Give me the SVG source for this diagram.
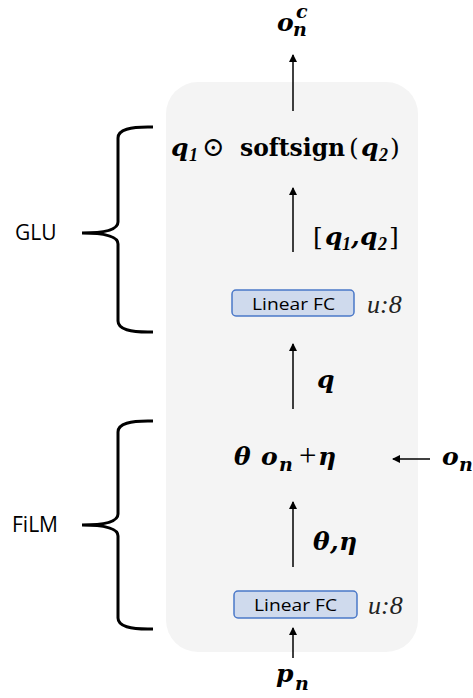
<svg xmlns="http://www.w3.org/2000/svg" width="473" height="698" viewBox="0 0 473 698">
<style>
.m{font-family:"DejaVu Serif","Liberation Serif",serif;font-weight:bold;font-style:italic;font-size:25px;fill:#000}
.mn{font-family:"DejaVu Serif","Liberation Serif",serif;font-weight:bold;font-style:italic;font-size:19px;fill:#000}
.ms{font-family:"Liberation Serif",serif;font-weight:bold;font-style:italic;font-size:18px;fill:#000}
.up{font-family:"DejaVu Serif","Liberation Serif",serif;font-weight:bold;font-size:25px;fill:#000}
.rg{font-family:"DejaVu Serif","Liberation Serif",serif;font-size:25px;font-weight:normal;fill:#000}
.u{font-family:"Liberation Serif","Times New Roman",serif;font-style:italic;font-size:26px;fill:#222}
.lab{font-family:"Open Sans","Liberation Sans",sans-serif;font-size:21px;fill:#000}
.fc{fill:#cfdaed;stroke:#4a78c8;stroke-width:1.5}
.fct{font-family:"Open Sans","Liberation Sans",sans-serif;font-size:17px;fill:#000}
.ar{stroke:#000;stroke-width:1.5;fill:none;marker-end:url(#ah)}
.br{stroke:#000;stroke-width:3;fill:none;stroke-linejoin:miter}
</style>
<defs>
<marker id="ah" markerWidth="8" markerHeight="10" refX="7" refY="5" orient="auto" markerUnits="userSpaceOnUse" viewBox="0 0 8 10">
<path d="M0,1 L8,5 L0,9 Z" fill="#000"/>
</marker>
</defs>
<rect id="panel" x="166" y="82" width="252" height="570" rx="32" ry="32" fill="#f4f4f4"/>
<g id="connectors">
<line class="ar" x1="293" y1="111" x2="293" y2="55"/>
<line class="ar" x1="293" y1="252" x2="293" y2="188"/>
<line class="ar" x1="293" y1="409" x2="293" y2="344"/>
<line class="ar" x1="430" y1="459" x2="393" y2="459"/>
<line class="ar" x1="293" y1="567" x2="293" y2="502"/>
<line class="ar" x1="293" y1="658" x2="293" y2="628"/>
</g>
<g id="out">
<text class="m" x="277" y="31">o<tspan class="mn" x="293" y="36">n</tspan><tspan class="mn" x="296" y="18">c</tspan></text>
</g>
<g id="glu-out">
<text class="m" x="171" y="156">q</text>
<text class="ms" x="189" y="161">1</text>
<text class="rg" x="202" y="156" style="font-size:27px">⊙</text>
<text class="up" x="240" y="156"><tspan textLength="105" lengthAdjust="spacingAndGlyphs">softsign</tspan><tspan class="rg" x="349">(</tspan></text>
<text class="m" x="361" y="156">q</text>
<text class="ms" x="379" y="161">2</text>
<text class="rg" x="390" y="156">)</text>
</g>
<g id="q12">
<text class="rg" x="313" y="245">[</text>
<text class="m" x="325" y="245">q</text>
<text class="ms" x="342" y="250">1</text>
<text class="m" x="351" y="245">,</text>
<text class="m" x="360" y="245">q</text>
<text class="ms" x="378" y="250">2</text>
<text class="rg" x="389" y="245">]</text>
</g>
<g id="fc1">
<rect class="fc" x="232" y="290" width="122" height="26" rx="4"/>
<text class="fct" x="252" y="310" textLength="83" lengthAdjust="spacingAndGlyphs">Linear FC</text>
<text class="u" x="367" y="313">u:8</text>
</g>
<g id="qlab">
<text class="m" x="317" y="388">q</text>
</g>
<g id="film-out">
<text class="m" x="234" y="465">θ</text>
<text class="m" x="261" y="465">o</text>
<text class="mn" x="279" y="471">n</text>
<text x="299" y="466" style="font-family:'Liberation Serif',serif;font-size:31px">+</text>
<text class="m" x="318" y="465">η</text>
</g>
<g id="on">
<text class="m" x="442" y="465">o</text>
<text class="mn" x="459" y="471">n</text>
</g>
<g id="theta-eta">
<text class="m" x="313" y="550">θ</text>
<text class="m" x="330" y="550">,</text>
<text class="m" x="339" y="550">η</text>
</g>
<g id="fc2">
<rect class="fc" x="234" y="591" width="123" height="27" rx="4"/>
<text class="fct" x="254" y="611" textLength="83" lengthAdjust="spacingAndGlyphs">Linear FC</text>
<text class="u" x="368" y="614">u:8</text>
</g>
<g id="pn">
<text class="m" x="276" y="682">p</text>
<text class="mn" x="295" y="690">n</text>
</g>
<g id="glu">
<path class="br" d="M153,127 Q118,126 118,138 L118,222 Q118,233 82,233 Q118,233 118,244 L118,321 Q118,333 153,332"/>
<text class="lab" x="15" y="240">GLU</text>
</g>
<g id="film">
<path class="br" d="M153,421 Q118,420 118,432 L118,514 Q118,525 82,525 Q118,525 118,536 L118,618 Q118,630 153,629"/>
<text class="lab" x="12" y="532">FiLM</text>
</g>
</svg>
